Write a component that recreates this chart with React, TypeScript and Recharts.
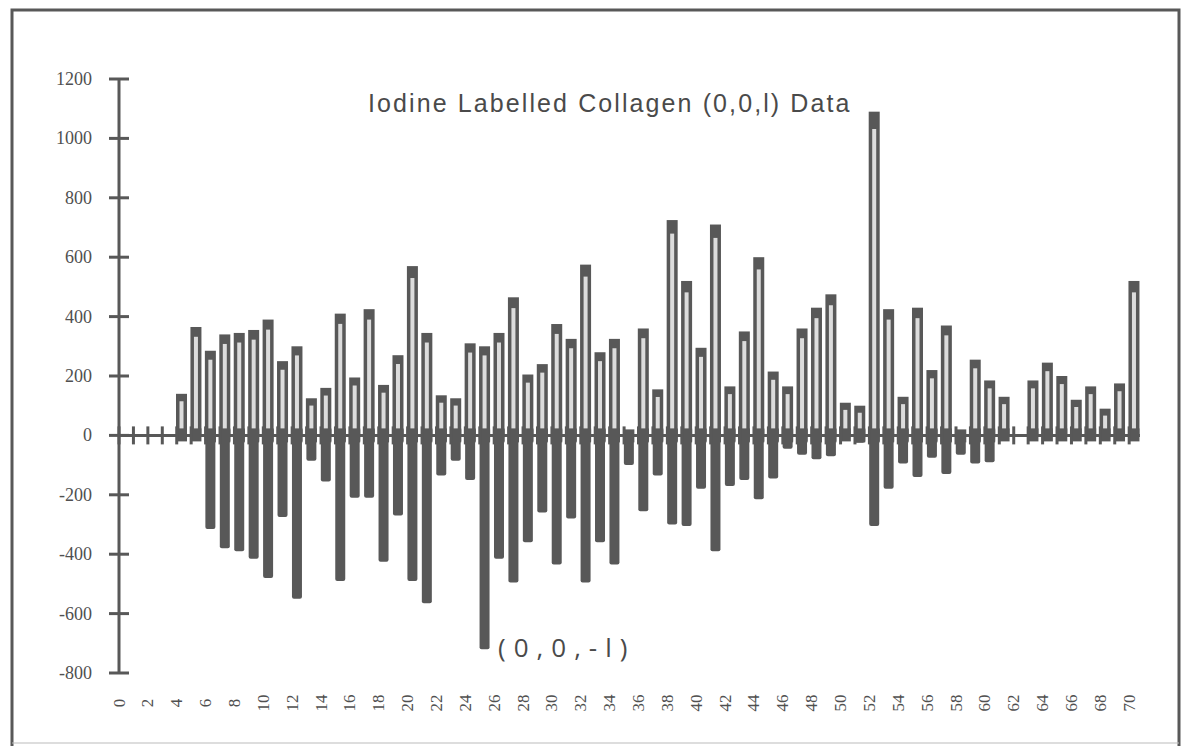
import React from 'react';
import { ComposedChart, Bar, XAxis, YAxis, ReferenceLine, Scatter } from 'recharts';

// Miller index l along the (0,0,l) row
const orders = [
  0, 1, 2, 3, 4, 5, 6, 7, 8, 9, 10, 11, 12, 13, 14, 15, 16, 17, 18, 19, 20,
  21, 22, 23, 24, 25, 26, 27, 28, 29, 30, 31, 32, 33, 34, 35, 36, 37, 38, 39, 40,
  41, 42, 43, 44, 45, 46, 47, 48, 49, 50, 51, 52, 53, 54, 55, 56, 57, 58, 59, 60,
  61, 62, 63, 64, 65, 66, 67, 68, 69, 70,
];

// (0,0,l) intensities
const plusL = [
  0, 0, 0, 0, 140, 365, 285, 340, 345, 355, 390, 250, 300, 125, 160, 410, 195, 425, 170, 270, 570,
  345, 135, 125, 310, 300, 345, 465, 205, 240, 375, 325, 575, 280, 325, 0, 360, 155, 725, 520, 295,
  710, 165, 350, 600, 215, 165, 360, 430, 475, 110, 100, 1090, 425, 130, 430, 220, 370, 0, 255, 185,
  130, 0, 185, 245, 200, 120, 165, 90, 175, 520,
];

// (0,0,-l) intensities, drawn downward
const minusL = [
  0, 0, 0, 0, 0, 0, -315, -380, -390, -415, -480, -275, -550, -85, -155, -490, -210, -210, -425, -270, -490,
  -565, -135, -85, -150, -720, -415, -495, -360, -260, -435, -280, -495, -360, -435, -100, -255, -135, -300, -305, -180,
  -390, -170, -150, -215, -145, -45, -65, -80, -70, 0, -25, -305, -180, -95, -140, -75, -130, -65, -95, -90,
  0, 0, 0, 0, 0, 0, 0, 0, 0, 0,
];

const yTicks = [-800, -600, -400, -200, 0, 200, 400, 600, 800, 1000, 1200];
const xTicks = [
  0, 2, 4, 6, 8, 10, 12, 14, 16, 18, 20, 22, 24, 26, 28, 30, 32, 34,
  36, 38, 40, 42, 44, 46, 48, 50, 52, 54, 56, 58, 60, 62, 64, 66, 68, 70,
];

const titleText = 'Iodine Labelled Collagen (0,0,l) Data';
const minusLabel = '(0,0,-l)';

const data = orders.map((l, i) => ({ l, pos: plusL[i], neg: minusL[i], zero: 0 }));

const INK = '#585858';
const LIGHT = '#dcdcdc';
const SHIFT = 4.5;

const PosBar = (props: any) => {
  const { x, y, width, height, value } = props;
  const v = Array.isArray(value) ? value[1] - value[0] : value;
  if (!v || !height) return <g />;
  const top = Math.min(y, y + height);
  const h = Math.abs(height);
  const bx = x + SHIFT;
  const cap = 6 + 0.035 * h;
  const side = 3.5;
  const bottom = 6;
  const innerH = h - cap - bottom;
  return (
    <g>
      <rect x={bx} y={top} width={width} height={h} fill={INK} />
      {innerH > 0 && (
        <rect x={bx + side} y={top + cap} width={width - 2 * side} height={innerH} fill={LIGHT} />
      )}
      <rect x={bx} y={top + h - 7} width={width} height={13} fill={INK} />
    </g>
  );
};

const NegBar = (props: any) => {
  const { x, y, width, height, value } = props;
  const v = Array.isArray(value) ? value[1] - value[0] : value;
  if (!v || !height) return <g />;
  const top = Math.min(y, y + height);
  const h = Math.abs(height);
  const bx = x + SHIFT;
  return (
    <g>
      <rect x={bx} y={top - 6} width={width} height={13} fill={INK} />
      <rect x={bx + 0.5} y={top} width={width - 1} height={h} rx={2} fill={INK} />
    </g>
  );
};

const ZeroTick = (props: any) => {
  const { cx, cy } = props;
  return <line x1={cx} x2={cx} y1={cy - 9} y2={cy + 9} stroke={INK} strokeWidth={3} />;
};

const XTick = (props: any) => {
  const { x, y, payload } = props;
  return (
    <text
      transform={`translate(${x},${y + 30}) rotate(-90)`}
      textAnchor="middle"
      dominantBaseline="central"
      fontFamily="'Liberation Serif', serif"
      fontSize={17}
      fill="#505050"
    >
      {payload.value}
    </text>
  );
};

const YTick = (props: any) => {
  const { x, y, payload } = props;
  return (
    <g>
      <line x1={x - 10} x2={x + 10} y1={y} y2={y} stroke={INK} strokeWidth={3} />
      <text
        x={x - 27}
        y={y}
        textAnchor="end"
        dominantBaseline="central"
        fontFamily="'Liberation Serif', serif"
        fontSize={18}
        fill="#505050"
      >
        {payload.value}
      </text>
    </g>
  );
};

export default function App() {
  return (
    <div style={{ position: 'absolute', left: 0, top: 0, width: 1188, height: 746, background: '#fff' }}>
      <ComposedChart
        width={1188}
        height={746}
        data={data}
        stackOffset="sign"
        margin={{ top: 79, right: 48, bottom: 0, left: 0 }}
      >
        <XAxis
          type="number"
          dataKey="l"
          domain={[0, 70.75]}
          ticks={xTicks}
          interval={0}
          axisLine={false}
          tickLine={false}
          tickSize={0}
          tickMargin={0}
          tick={<XTick />}
          height={73}
        />
        <YAxis
          type="number"
          domain={[-800, 1200]}
          ticks={yTicks}
          interval={0}
          width={119}
          axisLine={{ stroke: INK, strokeWidth: 3 }}
          tickLine={false}
          tickSize={0}
          tickMargin={0}
          tick={<YTick />}
        />
        <ReferenceLine y={0} stroke={INK} strokeWidth={3} />
        <Scatter dataKey="zero" shape={<ZeroTick />} isAnimationActive={false} />
        <Bar dataKey="pos" stackId="s" barSize={11} shape={<PosBar />} isAnimationActive={false} />
        <Bar dataKey="neg" stackId="s" barSize={11} shape={<NegBar />} isAnimationActive={false} />
      </ComposedChart>
      <svg
        width={1188}
        height={746}
        style={{ position: 'absolute', left: 0, top: 0, pointerEvents: 'none' }}
      >
        <polyline
          points="12,746 12,10 1179,10 1179,746"
          fill="none"
          stroke={INK}
          strokeWidth={3}
        />
        <line x1={12} x2={1179} y1={743} y2={743} stroke="#bbb" strokeWidth={1} />
        <text
          x={368}
          y={112}
          fontFamily="'Liberation Sans', Arial, sans-serif"
          fontSize={25}
          letterSpacing={2.1}
          fill="#4a4a4a"
        >
          {titleText}
        </text>
        <text
          x={498}
          y={657}
          fontFamily="'Open Sans', 'Liberation Sans', sans-serif"
          fontSize={26}
          letterSpacing={8}
          fill="#4a4a4a"
        >
          {minusLabel}
        </text>
      </svg>
    </div>
  );
}
